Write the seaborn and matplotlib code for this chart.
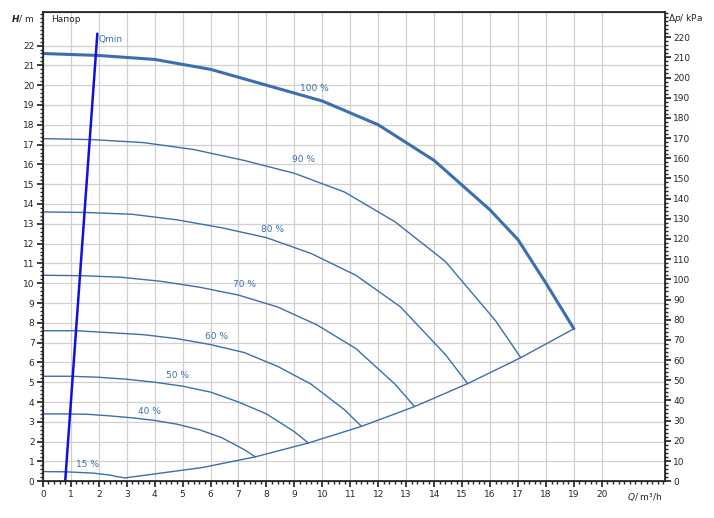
import matplotlib
matplotlib.use("Agg")
import matplotlib.pyplot as plt
import seaborn as sns
import pandas as pd
from matplotlib.ticker import MultipleLocator

sns.set_theme(style="white")
plt.rcParams['font.family'] = ['DejaVu Sans']

q100 = [0, 2, 4, 6, 8, 10, 12, 14, 16, 17, 18, 19]
h100 = [21.6, 21.5, 21.3, 20.8, 20.0, 19.2, 18.0, 16.2, 13.7, 12.2, 10.0, 7.7]
q90 = [0, 1.8, 3.6, 5.4, 7.2, 9, 10.8, 12.6, 14.4, 16.2, 17.1]
h90 = [17.3, 17.25, 17.1, 16.75, 16.2, 15.55, 14.6, 13.1, 11.1, 8.1, 6.24]
q80 = [0, 1.6, 3.2, 4.8, 6.4, 8, 9.6, 11.2, 12.8, 14.4, 15.2]
h80 = [13.6, 13.57, 13.48, 13.2, 12.8, 12.3, 11.5, 10.4, 8.8, 6.4, 4.93]
q70 = [0, 1.4, 2.8, 4.2, 5.6, 7, 8.4, 9.8, 11.2, 12.6, 13.3]
h70 = [10.4, 10.38, 10.3, 10.1, 9.8, 9.4, 8.8, 7.9, 6.7, 4.9, 3.77]
q60 = [0, 1.2, 2.4, 3.6, 4.8, 6, 7.2, 8.4, 9.6, 10.8, 11.4]
h60 = [7.6, 7.6, 7.5, 7.4, 7.2, 6.9, 6.5, 5.8, 4.9, 3.6, 2.77]
q50 = [0, 1, 2, 3, 4, 5, 6, 7, 8, 9, 9.5]
h50 = [5.3, 5.3, 5.25, 5.15, 5.0, 4.8, 4.5, 4.0, 3.4, 2.5, 1.93]
q40 = [0, 0.8, 1.6, 2.4, 3.2, 4, 4.8, 5.6, 6.4, 7.2, 7.6]
h40 = [3.4, 3.4, 3.38, 3.3, 3.2, 3.07, 2.88, 2.6, 2.2, 1.6, 1.23]
q15 = [0, 0.3, 0.6, 0.9, 1.2, 1.5, 1.8, 2.1, 2.4, 2.7, 2.95]
h15 = [0.49, 0.48, 0.48, 0.47, 0.45, 0.43, 0.41, 0.36, 0.31, 0.22, 0.17]
q_sys = [2.95, 3.8, 5.7, 7.6, 9.5, 11.4, 13.3, 15.2, 17.1, 19]
h_sys = [0.17, 0.33, 0.69, 1.23, 1.93, 2.77, 3.77, 4.93, 6.24, 7.7]
q_qmin = [0.8, 1.95]
h_qmin = [0, 22.6]

labels = ["100 %", "90 %", "80 %", "70 %", "60 %", "50 %", "40 %", "15 %"]
label_pos = [(9.2, 19.6), (8.9, 16.0), (7.8, 12.5), (6.8, 9.7), (5.8, 7.1), (4.4, 5.1), (3.4, 3.3), (1.2, 0.6)]

col = "#3a6fb0"
fig = plt.figure(figsize=(7.14, 5.18), dpi=100)
ax = fig.add_axes([0.060, 0.071, 0.871, 0.906])

curves = [(q100, h100), (q90, h90), (q80, h80), (q70, h70), (q60, h60), (q50, h50), (q40, h40), (q15, h15), (q_sys, h_sys)]
for i, (q, h) in enumerate(curves):
    sns.lineplot(x=q, y=h, ax=ax, color=col, lw=2.2 if i == 0 else 1.0, sort=False)
sns.lineplot(x=q_qmin, y=h_qmin, ax=ax, color="#1010e0", lw=1.8, sort=False)

for lab, (x, y) in zip(labels, label_pos):
    ax.text(x, y, lab, color=col, fontsize=6.5, ha="left", va="bottom")
ax.text(2.0, 22.3, "Qmin", color=col, fontsize=6.5, ha="left", va="center")
ax.text(0.3, 23.3, "Напор", color="#222", fontsize=6.5, va="center")

ax.set_xlim(0, 22.25)
ax.set_ylim(0, 23.7)
ax.xaxis.set_major_locator(MultipleLocator(1))
ax.xaxis.set_minor_locator(MultipleLocator(0.2))
ax.yaxis.set_major_locator(MultipleLocator(1))
ax.yaxis.set_minor_locator(MultipleLocator(0.2))
ax.set_xticks(list(range(0, 21)))
ax.set_xticklabels([str(i) for i in range(21)])
ax.set_yticks(list(range(0, 23)))
ax.grid(True, which="major", color="#d0d0d0", lw=0.9)
ax.tick_params(axis="both", which="major", labelsize=6.5, length=4, direction="out", pad=2)
ax.tick_params(axis="both", which="minor", length=2, direction="out")
ax.tick_params(bottom=True, left=True, which="both")
for s in ax.spines.values():
    s.set_color("#333")
    s.set_linewidth(0.8)

ax2 = ax.twinx()
ax2.set_ylim(0, 23.7 * 9.81)
ax2.set_yticks(list(range(0, 230, 10)))
ax2.yaxis.set_minor_locator(MultipleLocator(2))
ax2.tick_params(axis="y", which="major", labelsize=6.5, length=4, direction="out", pad=2)
ax2.tick_params(axis="y", which="minor", length=2, direction="out")
ax2.tick_params(right=True, which="both")
ax2.grid(False)

fig.text(0.048, 0.965, "$\\mathbfit{H}$/ m", fontsize=6.5, ha="right", va="center")
fig.text(0.935, 0.965, "Δ$\\it{p}$/ kPa", fontsize=6.5, ha="left", va="center")
fig.text(0.928, 0.04, "$\\it{Q}$/ m³/h", fontsize=6.5, ha="right", va="center")

fig.savefig("out.png", dpi=100, facecolor="white")
